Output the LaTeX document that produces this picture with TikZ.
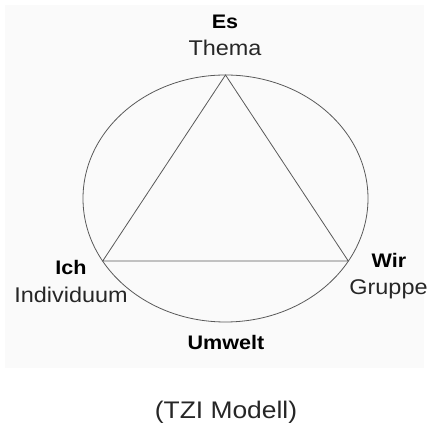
\documentclass[tikz,border=0pt]{standalone}
\usepackage{fontspec}
\setsansfont[FakeStretch=1.1]{Liberation Sans}
\usetikzlibrary{shapes.geometric}

\begin{document}
\begin{tikzpicture}[x=1pt, y=1pt, font=\sffamily]

    % Define colors
    \colorlet{panelcolor}{black!2}
    \colorlet{linecolor}{black!65}
    \colorlet{polecolor}{black}
    \colorlet{rolecolor}{black!85}

    \tikzset{
        pole/.style={anchor=base, inner sep=0pt, text=polecolor, font=\sffamily\bfseries\fontsize{19.6}{22}\selectfont},
        role/.style={anchor=base, inner sep=0pt, text=rolecolor, font=\sffamily\fontsize{21.3}{24}\selectfont},
        edge/.style={draw=linecolor, line width=0.8pt}
    }

    \useasboundingbox (0,0) rectangle (429,425);

    % ===== BACKGROUND PANEL =====
    \fill[panelcolor] (5,57) rectangle (424,420);

    % 1. The circle (Umwelt)
    \node[ellipse, draw=linecolor, line width=0.8pt, minimum width=285, minimum height=247, inner sep=0pt, outer sep=0pt] (umwelt) at (225.5,226.5) {};

    % 2. The triangle (Ich - Wir - Es)
    \coordinate (es) at (umwelt.north);
    \coordinate (ich) at (umwelt.207);
    \coordinate (wir) at (umwelt.333);
    \draw[edge] (es) -- (ich) -- (wir) -- cycle;

    % 3. Labels
    \node[pole] (esLabel) at (225,396.5) {Es};
    \node[role] (themaLabel) at (225,369) {Thema};

    \node[pole] (ichLabel) at (71,150) {Ich};
    \node[role] (individuumLabel) at (71,122) {Individuum};

    \node[pole] (wirLabel) at (389,157) {Wir};
    \node[role] (gruppeLabel) at (388.5,130) {Gruppe};

    \node[pole] (umweltLabel) at (226,75) {Umwelt};

    % 4. Caption
    \node[role, font=\sffamily\fontsize{24}{26}\selectfont] (caption) at (226,6) {(TZI Modell)};

\end{tikzpicture}
\end{document}
